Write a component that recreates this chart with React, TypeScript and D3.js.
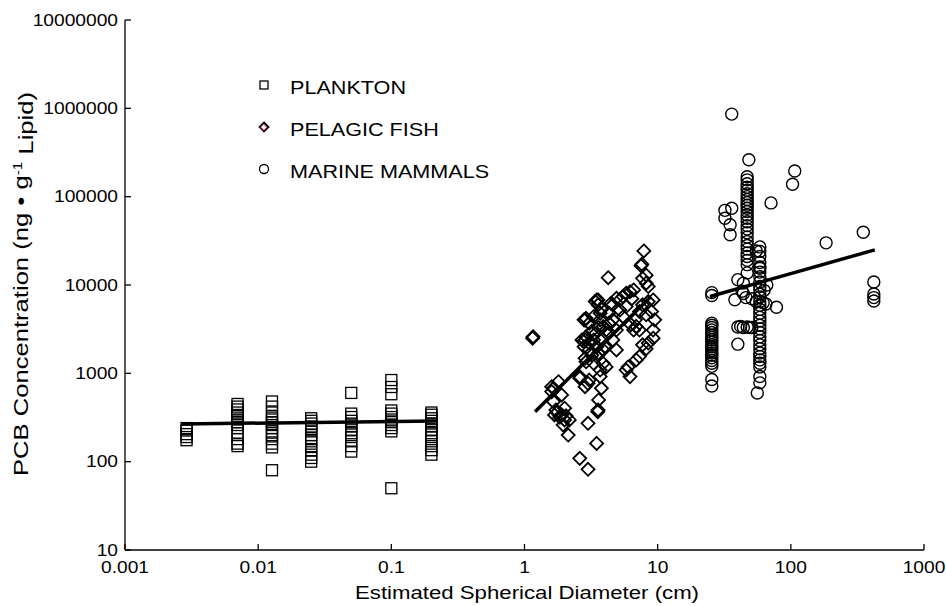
import React from "react";
import * as d3 from "d3";

const xTicks = [0.001, 0.01, 0.1, 1, 10, 100, 1000];
const xTickLabels = ["0.001", "0.01", "0.1", "1", "10", "100", "1000"];
const yTicks = [10, 100, 1000, 10000, 100000, 1000000, 10000000];
const yTickLabels = ["10", "100", "1000", "10000", "100000", "1000000", "10000000"];

// Plankton: size columns and their concentrations
const planktonSizes = [0.0029, 0.007, 0.0127, 0.025, 0.05, 0.1, 0.2];
const planktonValues = [
  [240, 225, 205, 190, 175],
  [450, 420, 390, 360, 330, 300, 280, 260, 240, 210, 180, 160, 150],
  [480, 420, 370, 330, 300, 280, 260, 240, 220, 200, 180, 160, 145, 80],
  [310, 290, 270, 250, 235, 220, 200, 185, 170, 150, 135, 120, 110, 100],
  [600, 350, 320, 290, 270, 250, 230, 210, 190, 170, 150, 130],
  [840, 700, 580, 380, 350, 320, 300, 280, 260, 240, 220, 50],
  [360, 340, 310, 290, 270, 250, 230, 210, 190, 170, 150, 135, 120],
];

// Pelagic fish
const fishX = [
  1.15, 1.16, 1.6, 1.8, 1.65, 1.6, 1.9, 1.65, 1.72, 2.0, 1.68, 1.84, 2.0, 2.17, 1.95, 2.13, 1.75, 1.9, 2.05,
  2.6, 3.0, 3.48, 3.0, 3.55, 3.6, 3.57, 2.6, 2.6, 3.06, 2.85, 3.7, 3.78, 3.0, 2.85, 2.78,
  3.48, 3.57, 3.7, 3.4, 2.8, 2.9, 3.06, 3.3, 3.7, 3.9, 4.1, 2.7, 2.8, 2.9, 3.06, 3.3, 3.5, 3.7, 3.9, 3.06,
  3.5, 3.3, 3.9, 4.1, 2.9, 3.7, 4.3, 4.6, 5.2, 5.8, 5.5, 4.6, 4.3, 3.57, 4.47, 3.8, 2.85, 2.85, 4.9, 3.2,
  3.4, 3.6, 3.2, 3.6, 4.0, 4.25,
  7.87, 7.6, 7.5, 7.7, 8.2, 8.2, 8.5, 6.2, 6.6, 5.8, 5.5, 5.2, 6.4, 9.25, 8.5, 7.7, 9.0, 9.5, 7.3, 8.2,
  6.8, 6.3, 6.9, 6.6, 7.3, 9.25, 9.25, 8.5, 7.7, 8.2, 7.3, 6.9, 5.8, 6.2, 6.0, 4.9, 4.9, 4.3, 4.6,
];
const fishY = [
  2500, 2600, 706, 805, 678, 621, 570, 478, 385, 403, 338, 318, 297, 297, 261, 200, 360, 340, 330,
  109, 82, 161, 272, 368, 500, 385, 918, 880, 840, 706, 918, 678, 770, 1480, 2290,
  6780, 5960, 4800, 6500, 4030, 4200, 3690, 4380, 4030, 3380, 3090, 2390, 2000, 2600, 2200, 2390, 2000, 2390, 1840, 1840,
  1550, 1300, 1300, 1180, 1350, 1090, 4800, 4030, 5200, 5700, 4380, 2390, 2900, 6780, 6220, 5300, 4030, 2390, 7080, 3000,
  2800, 3300, 1600, 1700, 2000, 12100,
  24300, 17200, 16500, 11900, 12900, 10500, 9600, 8400, 8800, 8070, 7400, 6780, 7000, 6780, 6500, 5960, 5000, 4030, 5000, 4600,
  4030, 3550, 3400, 3090, 3090, 3090, 2500, 2200, 2100, 1900, 1550, 1420, 1090, 918, 1180, 1840, 3090, 3690, 5960,
];

// Marine mammals
const mammalX = [
  25.5, 25.5, 25.5, 25.5, 25.5, 25.5, 25.5, 25.5, 25.5, 25.5, 25.5, 25.5, 25.5, 25.5, 25.5, 25.5, 25.5, 25.5, 25.5, 25.5, 25.5, 25.5, 25.5,
  48.4, 47, 47, 47, 47, 47, 47, 47, 47, 47, 47, 47, 47, 47, 47, 47, 47, 47, 47, 47, 47, 47, 47, 47, 47, 47, 47,
  58.5, 58.5, 58.5, 58.5, 58.5, 58.5, 58.5, 58.5, 58.5, 58.5, 58.5, 58.5, 58.5, 58.5, 58.5, 58.5, 58.5, 58.5, 58.5, 58.5,
  58.5, 58.5, 58.5, 58.5, 58.5, 58.5, 58.5, 58.5, 58.5, 58.5, 58.5, 58.5, 58.5,
  56, 36, 103, 107, 71, 36, 32, 32, 35, 35, 184, 350, 420, 420, 420, 420, 78, 65, 55, 47, 44, 44, 46,
  38, 40, 42, 44, 47, 51, 49, 40, 62, 63, 66, 40, 43, 51, 55,
];
const mammalY = [
  8200, 7600, 3700, 3500, 3300, 3100, 2900, 2700, 2550, 2400, 2250, 2100, 2000, 1900, 1800, 1700, 1600, 1500, 1400, 1300, 1200, 850, 720,
  262000, 168000, 155000, 140000, 128000, 118000, 108000, 100000, 93000, 86000, 80000, 74000, 68000, 62000, 57000, 52000, 47000, 43000,
  39000, 35000, 31000, 28000, 25500, 23000, 21000, 19000, 17000, 15500,
  27000, 24000, 21000, 18000, 16000, 14000, 12400, 10800, 9600, 8800, 7900, 7300, 6500, 5900, 5300, 4800, 4300, 3900, 3500, 3200,
  2900, 2600, 2350, 2100, 1900, 1700, 1550, 1420, 1300, 1180, 920, 780, 600,
  860000, 138000, 195000, 85000, 74000, 70000, 57000, 48000, 37000, 30000, 39600, 10800, 7900, 7200, 6600, 5600, 6100, 24300, 13700, 10500, 8000, 7200, 6800,
  3350, 3400, 3300, 3350, 3300, 3300, 2140, 6300, 8700, 10000, 11500, 8500, 7000, 6500, 9500,
];

// Regression lines (end points)
const planktonFitX = [0.00268, 0.216];
const planktonFitY = [267, 289];
const fishFitX = [1.2, 8.9];
const fishFitY = [368, 7400];
const mammalFitX = [24.7, 427];
const mammalFitY = [7400, 25000];

const legendLabels = ["PLANKTON", "PELAGIC FISH", "MARINE MAMMALS"];

const FONT = "'Liberation Sans', Arial, Helvetica, sans-serif";
const SX = 1.2;

export default function App() {
  const x = d3.scaleLog().domain([0.001, 1000]).range([125, 924]);
  const y = d3.scaleLog().domain([10, 1e7]).range([550, 20]);
  const line = d3.line<[number, number]>().x((d) => x(d[0])).y((d) => y(d[1]));

  const plankton: [number, number][] = [];
  planktonSizes.forEach((s, i) => planktonValues[i].forEach((v) => plankton.push([s, v])));
  const fish: [number, number][] = fishX.map((v, i) => [v, fishY[i]]);
  const mammals: [number, number][] = mammalX.map((v, i) => [v, mammalY[i]]);

  const sq = 5.5;
  const dm = 6.5;
  const diamond = (cx: number, cy: number, h: number) =>
    `M${cx},${cy - h}L${cx + h},${cy}L${cx},${cy + h}L${cx - h},${cy}Z`;

  const legendY = [85, 127, 169];

  return (
    <svg
      width={946}
      height={606}
      style={{ position: "absolute", left: 0, top: 0, background: "#fff" }}
      fontFamily={FONT}
    >
      <rect width={946} height={606} fill="#fff" />
      {/* axes */}
      <line x1={125} x2={125} y1={y(1e7)} y2={y(10)} stroke="#000" strokeWidth={1.3} />
      <line x1={x(0.001)} x2={x(1000)} y1={550} y2={550} stroke="#000" strokeWidth={1.3} />
      {yTicks.map((t, i) => (
        <g key={"yt" + i}>
          <line x1={125} x2={131} y1={y(t)} y2={y(t)} stroke="#000" strokeWidth={1.3} />
          <text
            transform={`translate(118,${y(t)}) scale(${SX},1)`}
            textAnchor="end"
            dy="0.36em"
            fontSize={16}
          >
            {yTickLabels[i]}
          </text>
        </g>
      ))}
      {xTicks.map((t, i) => (
        <g key={"xt" + i}>
          <line x1={x(t)} x2={x(t)} y1={550} y2={544} stroke="#000" strokeWidth={1.3} />
          <text
            transform={`translate(${x(t)},567) scale(${SX},1)`}
            textAnchor="middle"
            dy="0.36em"
            fontSize={16}
          >
            {xTickLabels[i]}
          </text>
        </g>
      ))}
      <text transform={`translate(527,592) scale(${SX},1)`} textAnchor="middle" dy="0.36em" fontSize={18.5}>
        Estimated Spherical Diameter (cm)
      </text>
      <text transform={`translate(21,284) rotate(-90) scale(1.28,1)`} textAnchor="middle" dy="0.36em" fontSize={20}>
        PCB Concentration (ng • g
        <tspan dy="-0.55em" fontSize={12}>-1</tspan>
        <tspan dy="0.55em"> Lipid)</tspan>
      </text>

      {/* plankton */}
      {plankton.map((d, i) => (
        <rect
          key={"p" + i}
          x={x(d[0]) - sq}
          y={y(d[1]) - sq}
          width={sq * 2}
          height={sq * 2}
          fill="none"
          stroke="#000"
          strokeWidth={1.3}
        />
      ))}
      {/* fish */}
      {fish.map((d, i) => (
        <path key={"f" + i} d={diamond(x(d[0]), y(d[1]), dm)} fill="none" stroke="#000" strokeWidth={1.8} />
      ))}
      {/* mammals */}
      {mammals.map((d, i) => (
        <circle key={"m" + i} cx={x(d[0])} cy={y(d[1])} r={6} fill="none" stroke="#000" strokeWidth={1.4} />
      ))}

      {/* regression lines */}
      <path d={line(planktonFitX.map((v, i) => [v, planktonFitY[i]]) as any) || ""} stroke="#000" strokeWidth={3.5} fill="none" />
      <path d={line(fishFitX.map((v, i) => [v, fishFitY[i]]) as any) || ""} stroke="#000" strokeWidth={3.5} fill="none" />
      <path d={line(mammalFitX.map((v, i) => [v, mammalFitY[i]]) as any) || ""} stroke="#000" strokeWidth={3.5} fill="none" />

      {/* legend */}
      <rect x={260} y={legendY[0] - 4} width={8} height={8} fill="none" stroke="#000" strokeWidth={1.3} />
      <path d={diamond(264, legendY[1], 4.5)} fill="none" stroke="#000" strokeWidth={1.8} />
      <path d={diamond(263.4, legendY[1] + 0.6, 3.5)} fill="none" stroke="#d01860" strokeWidth={1} />
      <circle cx={264} cy={legendY[2]} r={4.5} fill="none" stroke="#000" strokeWidth={1.3} />
      {legendLabels.map((l, i) => (
        <text
          key={"l" + i}
          transform={`translate(290,${legendY[i] + 3}) scale(${SX},1)`}
          dy="0.36em"
          fontSize={18}
        >
          {l}
        </text>
      ))}
    </svg>
  );
}
